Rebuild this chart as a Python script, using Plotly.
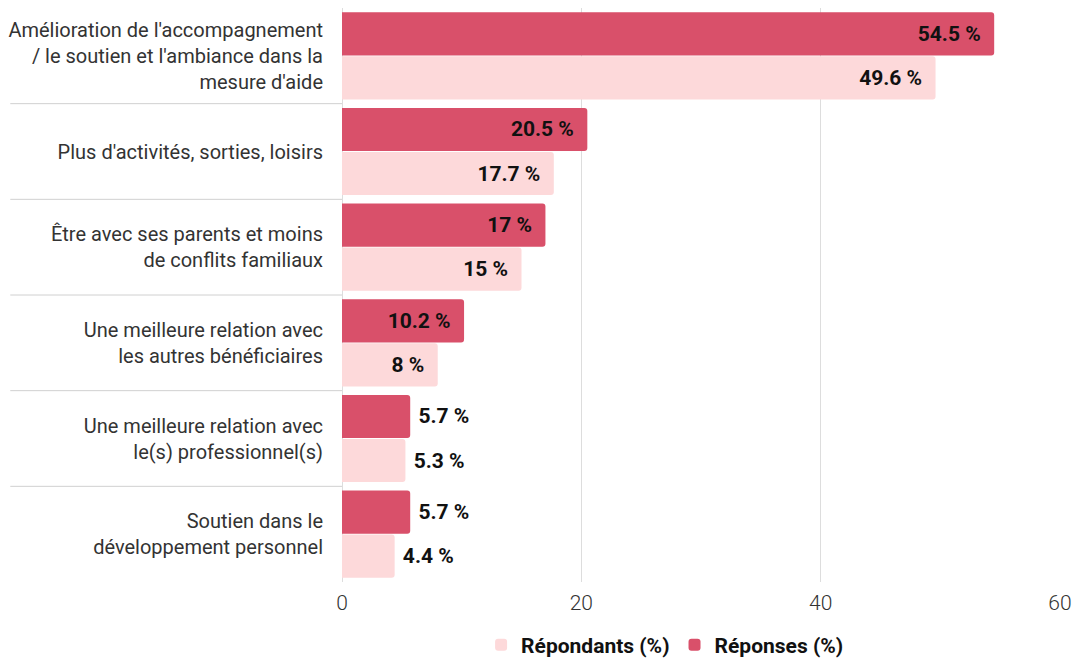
import plotly.graph_objects as go

categories = [
    "Amélioration de l'accompagnement<br>/ le soutien et l'ambiance dans la<br>mesure d'aide",
    "Plus d'activités, sorties, loisirs",
    "Être avec ses parents et moins<br>de conflits familiaux",
    "Une meilleure relation avec<br>les autres bénéficiaires",
    "Une meilleure relation avec<br>le(s) professionnel(s)",
    "Soutien dans le<br>développement personnel",
]
reponses = [54.5, 20.5, 17, 10.2, 5.7, 5.7]
repondants = [49.6, 17.7, 15, 8, 5.3, 4.4]
x_ticks = [0, 20, 40, 60]

DARK = "#d9506a"
LIGHT = "#fdd9da"
NB = "\u00a0"


def labels(vals):
    out, pos = [], []
    for v in vals:
        s = f"{v:g} %"
        if v > 7:
            out.append(s + NB * 2)
            pos.append("inside")
        else:
            out.append(NB + s)
            pos.append("outside")
    return out, pos


t1, p1 = labels(reponses)
t2, p2 = labels(repondants)

value_font = dict(family="Roboto", size=21, color="#111111", weight="bold")

fig = go.Figure()
fig.add_trace(go.Bar(
    y=categories, x=reponses, orientation="h", name="Réponses (%)",
    marker=dict(color=DARK, line=dict(width=0)),
    text=t1, textposition=p1, insidetextanchor="end",
    textfont=value_font, insidetextfont=value_font, outsidetextfont=value_font,
    cliponaxis=False, legendrank=2, constraintext="none",
))
fig.add_trace(go.Bar(
    y=categories, x=repondants, orientation="h", name="Répondants (%)",
    marker=dict(color=LIGHT, line=dict(width=0)),
    text=t2, textposition=p2, insidetextanchor="end",
    textfont=value_font, insidetextfont=value_font, outsidetextfont=value_font,
    cliponaxis=False, legendrank=1, constraintext="none",
))

shapes = []
for i in range(len(categories) - 1):
    shapes.append(dict(type="line", xref="paper", yref="y",
                       x0=-0.462, x1=0, y0=i + 0.5, y1=i + 0.5,
                       line=dict(color="#d0d0d0", width=1)))

fig.update_layout(
    width=1078, height=659,
    margin=dict(l=342, r=18, t=8, b=77, autoexpand=False),
    paper_bgcolor="white", plot_bgcolor="white",
    barmode="group", bargap=0.08, bargroupgap=0.02,
    barcornerradius=3,
    font=dict(family="Roboto", color="#333333"),
    shapes=shapes,
    legend=dict(orientation="h", x=0.45, xanchor="center", y=-0.11, yanchor="middle",
                font=dict(family="Roboto", size=21, color="#111111", weight="bold"),
                itemwidth=30, traceorder="normal"),
    xaxis=dict(range=[0, 60], tickvals=x_ticks, showgrid=True, gridcolor="#dddddd",
               gridwidth=1, zeroline=True, zerolinecolor="#dddddd", zerolinewidth=1,
               tickfont=dict(family="Roboto", size=21, color="#333333", weight=300),
               ticklabelstandoff=6, showline=False, automargin=False),
    yaxis=dict(autorange="reversed", showgrid=False, zeroline=False,
               tickfont=dict(family="Roboto", size=20, color="#333333"),
               ticklabelstandoff=18, showline=False, automargin=False),
)

fig.write_html("out.html")
